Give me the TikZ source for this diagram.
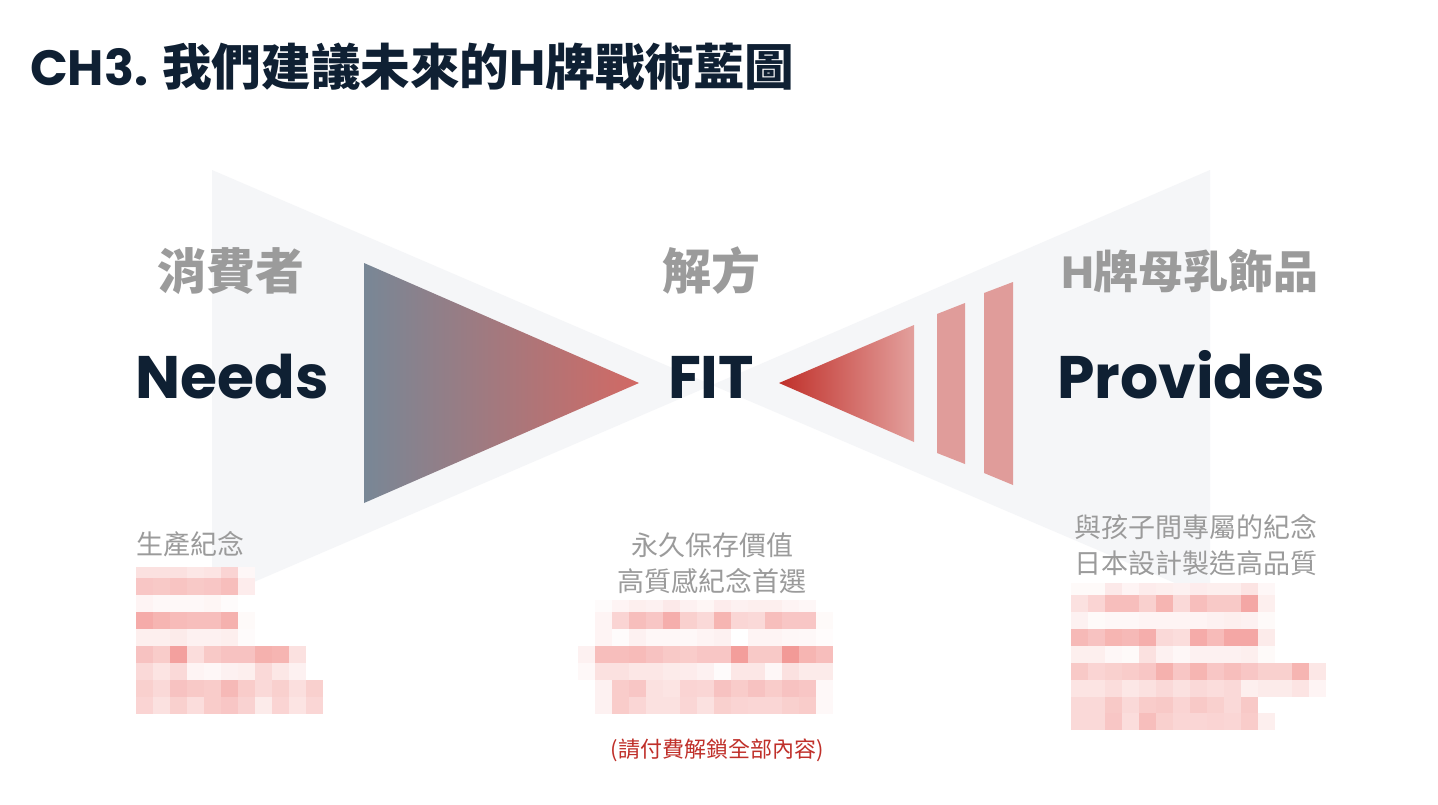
\documentclass[tikz,border=0pt]{standalone}
\usepackage{fontspec}
\newfontfamily\pop{Poppins}
\newfontfamily\cjk{Noto Sans CJK TC}
\definecolor{navy}{RGB}{15,32,51}
\definecolor{lab}{RGB}{155,155,155}
\definecolor{bgtri}{RGB}{245,246,248}
\definecolor{slate}{RGB}{120,135,150}
\definecolor{redA}{RGB}{210,105,100}
\definecolor{redB}{RGB}{192,48,42}
\definecolor{redC}{RGB}{227,160,157}
\definecolor{barcol}{RGB}{224,156,154}
\definecolor{mos}{RGB}{238,120,116}
\definecolor{paid}{RGB}{192,48,42}
\newcommand\mosrow[4]{\foreach \v [count=\i from 0] in {#4}{\fill[mos!\v] ({#1+17*\i},#2) rectangle ++(17,#3);}}
\begin{document}
\begin{tikzpicture}[x=1pt,y=-1pt,
  titlestyle/.style={anchor=base west, inner sep=0, text=navy, font=\cjk\bfseries\fontsize{49.6}{56}\selectfont},
  biglab/.style={anchor=base, inner sep=0, text=lab, font=\cjk\bfseries\fontsize{49}{56}\selectfont},
  bigword/.style={anchor=base, inner sep=0, text=navy, font=\pop\bfseries\fontsize{60}{70}\selectfont},
  smalltxt/.style={anchor=base, inner sep=0, text=lab, font=\cjk\fontsize{27}{32}\selectfont},
  paidtxt/.style={anchor=base, inner sep=0, text=paid, font=\cjk\fontsize{22}{26}\selectfont}]
\useasboundingbox (0,0) rectangle (1438,804);
\fill[white] (0,0) rectangle (1438,804);
% background bowtie
\fill[bgtri] (212,170) -- (712,385) -- (212,600) -- cycle;
\fill[bgtri] (1210,170) -- (712,385) -- (1210,598) -- cycle;
% gradient triangles and bars
\shade[left color=slate, right color=redA] (364,263) -- (639,383) -- (364,503) -- cycle;
\shade[left color=redB, right color=redC] (779,383) -- (914,325) -- (914,442) -- cycle;
\fill[barcol] (937,314) -- (965,303) -- (965,464) -- (937,453) -- cycle;
\fill[barcol] (984,293) -- (1013,282) -- (1013,485) -- (984,473) -- cycle;
% mosaic left
\mosrow{136}{567}{11}{22,22,22,18,20,32,6}
\mosrow{136}{578}{17}{42,40,44,40,42,48,14}
\mosrow{136}{595}{17}{8,5,5,5,7,3}
\mosrow{136}{612}{17}{62,55,50,48,48,58,4}
\mosrow{136}{629}{17}{12,12,15,10,10,12,3}
\mosrow{136}{646}{17}{45,38,70,25,40,45,45,58,55,22}
\mosrow{136}{663}{17}{28,20,28,8,6,10,12,28,18,10}
\mosrow{136}{680}{17}{35,28,45,40,38,52,38,28,35,24,35}
\mosrow{136}{697}{17}{32,22,35,25,38,42,33,15,32,20,30}
% mosaic middle
\mosrow{595}{600}{12}{3,8,12,10,16,10,7,14,10,12,12,8,6}
\mosrow{595}{612}{17}{8,32,48,42,60,35,28,55,30,28,48,42,42,4}
\mosrow{595}{629}{17}{8,3,10,6,6,5,8,10,0,8,8,6,5,2}
\mosrow{578}{646}{17}{10,48,48,50,45,40,38,42,42,72,40,40,75,55,48}
\mosrow{578}{663}{17}{5,22,22,18,18,15,14,10,3,18,18,6,22,15,15}
\mosrow{595}{680}{17}{10,38,42,22,20,32,30,45,38,45,38,45,42,5}
\mosrow{595}{697}{17}{10,38,30,22,22,30,22,35,32,30,30,35,38,5}
% mosaic right
\mosrow{1071}{583}{12}{4,4,16,8,14,12,10,14,12,12,20,6}
\mosrow{1071}{595}{17}{22,32,48,48,35,55,28,48,40,40,65,12}
\mosrow{1071}{612}{17}{10,4,6,6,8,8,8,8,10,12,10,4}
\mosrow{1071}{629}{17}{52,45,55,52,60,28,25,62,50,65,65,15}
\mosrow{1071}{646}{17}{12,12,6,4,22,10,6,10,10,10,12,4}
\mosrow{1071}{663}{17}{40,32,35,38,42,58,42,55,42,48,42,35,35,55,18}
\mosrow{1071}{680}{17}{20,20,25,18,22,28,22,28,25,28,12,15,15,20,8}
\mosrow{1071}{697}{16}{28,28,40,28,38,40,32,40,35,28,40}
\mosrow{1071}{713}{17}{28,28,42,25,48,35,30,30,32,30,38,12}
% texts
\node[titlestyle] (title) at (30,85) {{\pop CH3. }我們建議未來的{\pop H}牌戰術藍圖};
\node[biglab] (lab1) at (231,289) {消費者};
\node[biglab] (lab2) at (711,289) {解方};
\node[biglab, font=\cjk\bfseries\fontsize{45}{52}\selectfont] (lab3) at (1190,288) {{\pop H}牌母乳飾品};
\node[bigword] (w1) at (232,398) {Needs};
\node[bigword] (w2) at (711,398) {FIT};
\node[bigword] (w3) at (1191,398) {Provides};
\node[smalltxt, anchor=base west] (s1) at (136,554) {生產紀念};
\node[smalltxt] (s2a) at (712,555) {永久保存價值};
\node[smalltxt] (s2b) at (712,591) {高質感紀念首選};
\node[smalltxt] (s3a) at (1196,537) {與孩子間專屬的紀念};
\node[smalltxt] (s3b) at (1196,573) {日本設計製造高品質};
\node[paidtxt] (paid) at (717,757) {(請付費解鎖全部內容)};
\end{tikzpicture}
\end{document}
